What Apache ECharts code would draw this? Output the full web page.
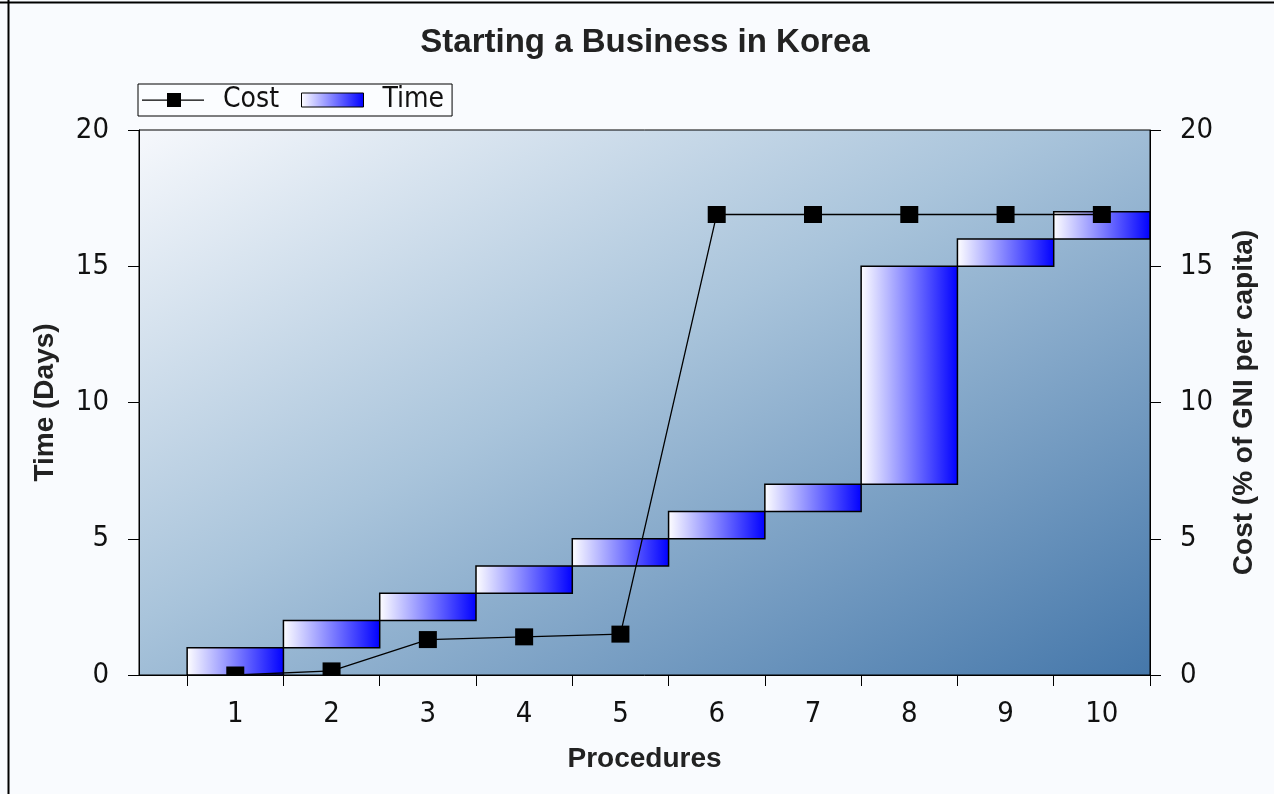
<!DOCTYPE html>
<html>
<head>
<meta charset="utf-8">
<script src="https://cdn.jsdelivr.net/npm/echarts@6/dist/echarts.min.js"></script>
<style>
  html, body { margin: 0; padding: 0; background: #f9fbfe; }
  #chart { width: 1274px; height: 794px; }
</style>
</head>
<body>
<div id="chart"></div>
<script>
// Procedures required to start a business, with cumulative days and cost
const procedures = [1, 2, 3, 4, 5, 6, 7, 8, 9, 10];
const timeStart = [0, 1, 2, 3, 4, 5, 6, 7, 15, 16];   // days elapsed when the procedure begins
const timeEnd   = [1, 2, 3, 4, 5, 6, 7, 15, 16, 17];  // days elapsed when the procedure ends
const costPct   = [0, 0.15, 1.3, 1.4, 1.5, 16.9, 16.9, 16.9, 16.9, 16.9]; // cumulative cost, % of GNI per capita
const valueTicks = [0, 5, 10, 15, 20];

const BG = '#f9fbfe';
const tickFont = "'Liberation Sans Narrow', 'DejaVu Sans Condensed', 'Liberation Sans', sans-serif";
const boldFont = "'Liberation Sans', Arial, sans-serif";

// procedure boundaries sit half a step either side of each procedure number
const boundaries = procedures.map(p => p - 0.5).concat([procedures[procedures.length - 1] + 0.5]);

const barFill = new echarts.graphic.LinearGradient(0, 0, 1, 0, [
  { offset: 0, color: '#ffffff' },
  { offset: 1, color: '#0000ff' }
]);

// plot-area wash: pale at top-left, steel blue at bottom-right
const plotFill = new echarts.graphic.LinearGradient(139, 130, 594, 975, [
  { offset: 0, color: '#f6f8fc' },
  { offset: 0.45, color: '#a9c4db' },
  { offset: 1, color: '#4577aa' }
], true);

// legend key for the cost line: a thin rule with a square marker
const costKey = 'path://M0,6.5 H62 V7.8 H0 Z M25,0 H39 V14 H25 Z';

const chart = echarts.init(document.getElementById('chart'), null, { renderer: 'canvas' });

const valueAxisCommon = {
  type: 'value',
  min: 0,
  max: 20,
  interval: 5,
  z: 10,
  axisLine: { show: true, lineStyle: { color: '#000', width: 1 } },
  axisTick: { show: true, inside: false, length: 11, lineStyle: { color: '#000', width: 1 } },
  splitLine: { show: false },
  axisLabel: {
    fontFamily: tickFont, fontSize: 29, color: '#111', margin: 30,
    customValues: valueTicks
  },
  nameLocation: 'middle',
  nameTextStyle: { fontFamily: boldFont, fontWeight: 'bold', fontSize: 28, color: '#222' }
};

chart.setOption({
  backgroundColor: BG,
  animation: false,
  title: {
    text: 'Starting a Business in Korea',
    left: 640,
    textAlign: 'center',
    top: 21,
    textStyle: { fontFamily: boldFont, fontWeight: 'bold', fontSize: 33, color: '#222' }
  },
  legend: {
    left: 138,
    top: 84,
    orient: 'horizontal',
    padding: [2, 8, 2, 4],
    itemGap: 22,
    itemWidth: 62,
    itemHeight: 14,
    borderColor: '#000',
    borderWidth: 1,
    borderRadius: 0,
    backgroundColor: '#fbfdff',
    textStyle: { fontFamily: tickFont, fontSize: 28, lineHeight: 28, color: '#111', padding: [0, 0, 0, 14] },
    data: [
      { name: 'Cost', icon: costKey, itemStyle: { color: '#000' } },
      { name: 'Time', icon: 'rect', itemStyle: { color: barFill, borderColor: '#000', borderWidth: 1 } }
    ]
  },
  grid: {
    left: 139,
    right: 124,
    top: 130,
    bottom: 119,
    show: true,
    backgroundColor: plotFill,
    borderColor: '#000',
    borderWidth: 1
  },
  xAxis: {
    type: 'value',
    min: 0,
    max: boundaries[boundaries.length - 1],
    z: 10,
    axisLine: { show: true, onZero: false, lineStyle: { color: '#000', width: 1 } },
    axisTick: { show: true, length: 11, lineStyle: { color: '#000', width: 1 }, customValues: boundaries },
    axisLabel: { fontFamily: tickFont, fontSize: 29, color: '#111', margin: 25, customValues: procedures },
    splitLine: { show: false },
    name: 'Procedures',
    nameLocation: 'middle',
    nameGap: 70,
    nameTextStyle: { fontFamily: boldFont, fontWeight: 'bold', fontSize: 28, color: '#222' }
  },
  yAxis: [
    Object.assign({}, valueAxisCommon, {
      position: 'left',
      name: 'Time (Days)',
      nameGap: 80
    }),
    Object.assign({}, valueAxisCommon, {
      position: 'right',
      name: 'Cost (% of GNI per capita)',
      nameGap: 80
    })
  ],
  series: [
    {
      name: 'Time',
      type: 'custom',
      xAxisIndex: 0,
      yAxisIndex: 0,
      z: 2,
      itemStyle: { color: barFill, borderColor: '#000', borderWidth: 1 },
      data: procedures.map((p, i) => [p, timeStart[i], timeEnd[i]]),
      encode: { x: 0, y: [1, 2] },
      renderItem: function (params, api) {
        const p = api.value(0);
        const topLeft = api.coord([p - 0.5, api.value(2)]);
        const bottomRight = api.coord([p + 0.5, api.value(1)]);
        return {
          type: 'rect',
          shape: {
            x: topLeft[0],
            y: topLeft[1],
            width: bottomRight[0] - topLeft[0],
            height: bottomRight[1] - topLeft[1]
          },
          style: { fill: barFill, stroke: '#000', lineWidth: 1.5 }
        };
      }
    },
    {
      name: 'Cost',
      type: 'line',
      xAxisIndex: 0,
      yAxisIndex: 1,
      z: 3,
      symbol: 'rect',
      symbolSize: [18, 17],
      itemStyle: { color: '#000' },
      lineStyle: { color: '#000', width: 1.3 },
      data: procedures.map((p, i) => [p, costPct[i]])
    }
  ],
  graphic: [
    // keeps markers that sit on the zero line inside the plot area
    { type: 'rect', z: 5, silent: true, shape: { x: 125, y: 676, width: 1045, height: 30 }, style: { fill: BG } },
    // outer frame (top and left edges)
    { type: 'line', z: 20, silent: true, shape: { x1: 0, y1: 2.5, x2: 1274, y2: 2.5 }, style: { stroke: '#000', lineWidth: 2 } },
    { type: 'line', z: 20, silent: true, shape: { x1: 8.5, y1: 0, x2: 8.5, y2: 794 }, style: { stroke: '#000', lineWidth: 2 } }
  ]
});
</script>
</body>
</html>
